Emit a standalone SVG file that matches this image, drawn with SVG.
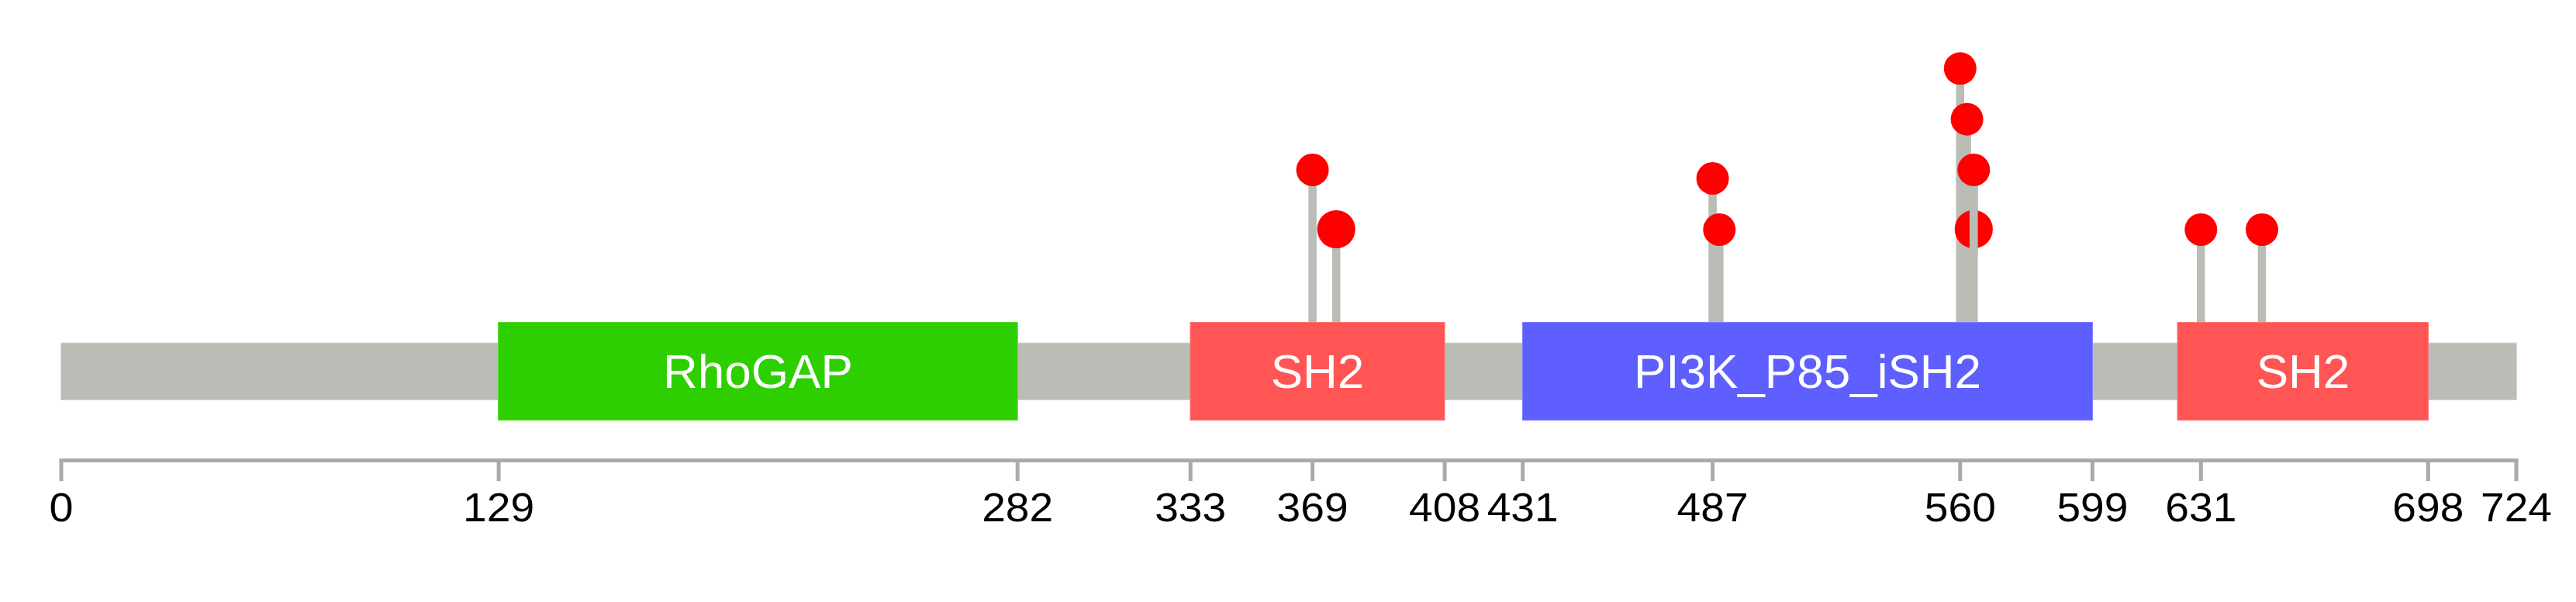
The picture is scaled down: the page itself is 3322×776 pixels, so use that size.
<svg xmlns="http://www.w3.org/2000/svg" width="3322" height="776" viewBox="0 0 3322 776">
  <style>
    .bar { fill: #babdb6; stroke: #d6d8d2; stroke-width: 1; }
    .stem { stroke: #babdb6; stroke-width: 10.6; fill: none; }
    .dot { fill: #ff0000; }
    .axis { stroke: #aaaaaa; stroke-width: 5; fill: none; }
    .tick { stroke: #aaaaaa; stroke-width: 5; }
    .tl { font-family: "Liberation Sans", Arial, sans-serif; font-size: 51px; fill: #000000; text-anchor: middle; }
    .dl { font-family: "Liberation Sans", Arial, sans-serif; font-size: 62px; fill: #ffffff; text-anchor: middle; }
    .rho { fill: #2ecf00; stroke: #52e02a; stroke-width: 1; }
    .sh2 { fill: #ff5555; stroke: #ff7777; stroke-width: 1; }
    .pi3k { fill: #5f5fff; stroke: #8080ff; stroke-width: 1; }
  </style>
  <rect x="0" y="0" width="3322" height="776" fill="#ffffff"/>

  <g id="protein-bar">
    <rect class="bar" x="78.5" y="442" width="3167" height="73.5"/>
  </g>

  <g id="connectors">
    <line class="stem" x1="1692.6" y1="219" x2="1692.6" y2="470"/>
    <line class="stem" x1="1723.2" y1="295.5" x2="1723.2" y2="470"/>
    <line class="stem" x1="2208.6" y1="230" x2="2208.6" y2="470"/>
    <line class="stem" x1="2217.3" y1="296" x2="2217.3" y2="470"/>
    <line class="stem" x1="2527.8" y1="88.3" x2="2527.8" y2="470"/>
    <line class="stem" x1="2536.6" y1="153.7" x2="2536.6" y2="470"/>
    <line class="stem" x1="2545.3" y1="219" x2="2545.3" y2="470"/>
    <line class="stem" x1="2838.3" y1="296" x2="2838.3" y2="470"/>
    <line class="stem" x1="2917" y1="296" x2="2917" y2="470"/>
  </g>

  <g id="mutations">
    <circle id="mut-369" class="dot" cx="1692.6" cy="219" r="21"/>
    <circle id="mut-376" class="dot" cx="1723.2" cy="295.5" r="24.6"/>
    <circle id="mut-487" class="dot" cx="2208.6" cy="230" r="21"/>
    <circle id="mut-489" class="dot" cx="2217.3" cy="296" r="21"/>
    <circle id="mut-564b" class="dot" cx="2545.3" cy="295.5" r="24.6"/>
    <line class="stem" x1="2545.3" y1="235" x2="2545.3" y2="330"/>
    <circle id="mut-560" class="dot" cx="2527.8" cy="88.3" r="21"/>
    <circle id="mut-562" class="dot" cx="2536.6" cy="153.7" r="21"/>
    <circle id="mut-564" class="dot" cx="2545.3" cy="219" r="21"/>
    <circle id="mut-631" class="dot" cx="2838.3" cy="296" r="21"/>
    <circle id="mut-649" class="dot" cx="2917" cy="296" r="21"/>
  </g>

  <g id="domain-rhogap">
    <rect class="rho" x="642.6" y="415.5" width="669.6" height="126.2"/>
    <text class="dl" x="977.4" y="499.5">RhoGAP</text>
  </g>
  <g id="domain-sh2-1">
    <rect class="sh2" x="1535" y="415.5" width="328" height="126.2"/>
    <text class="dl" x="1699" y="499.5">SH2</text>
  </g>
  <g id="domain-pi3k">
    <rect class="pi3k" x="1963.5" y="415.5" width="735" height="126.2"/>
    <text class="dl" x="2331" y="499.5">PI3K_P85_iSH2</text>
  </g>
  <g id="domain-sh2-2">
    <rect class="sh2" x="2808" y="415.5" width="323.5" height="126.2"/>
    <text class="dl" x="2970" y="499.5">SH2</text>
  </g>

  <g id="axis">
    <line class="axis" x1="76.5" y1="593.5" x2="3247.5" y2="593.5"/>
    <line class="tick" x1="79" y1="591" x2="79" y2="620"/>
    <line class="tick" x1="643.1" y1="591" x2="643.1" y2="620"/>
    <line class="tick" x1="1312.2" y1="591" x2="1312.2" y2="620"/>
    <line class="tick" x1="1535.2" y1="591" x2="1535.2" y2="620"/>
    <line class="tick" x1="1692.6" y1="591" x2="1692.6" y2="620"/>
    <line class="tick" x1="1863.1" y1="591" x2="1863.1" y2="620"/>
    <line class="tick" x1="1963.7" y1="591" x2="1963.7" y2="620"/>
    <line class="tick" x1="2208.6" y1="591" x2="2208.6" y2="620"/>
    <line class="tick" x1="2527.8" y1="591" x2="2527.8" y2="620"/>
    <line class="tick" x1="2698.4" y1="591" x2="2698.4" y2="620"/>
    <line class="tick" x1="2838.3" y1="591" x2="2838.3" y2="620"/>
    <line class="tick" x1="3131.3" y1="591" x2="3131.3" y2="620"/>
    <line class="tick" x1="3245" y1="591" x2="3245" y2="620"/>
    <text class="tl" x="79" y="672" textLength="31" lengthAdjust="spacingAndGlyphs">0</text>
    <text class="tl" x="643.1" y="672" textLength="92" lengthAdjust="spacingAndGlyphs">129</text>
    <text class="tl" x="1312.2" y="672" textLength="92" lengthAdjust="spacingAndGlyphs">282</text>
    <text class="tl" x="1535.2" y="672" textLength="92" lengthAdjust="spacingAndGlyphs">333</text>
    <text class="tl" x="1692.6" y="672" textLength="92" lengthAdjust="spacingAndGlyphs">369</text>
    <text class="tl" x="1863.1" y="672" textLength="92" lengthAdjust="spacingAndGlyphs">408</text>
    <text class="tl" x="1963.7" y="672" textLength="92" lengthAdjust="spacingAndGlyphs">431</text>
    <text class="tl" x="2208.6" y="672" textLength="92" lengthAdjust="spacingAndGlyphs">487</text>
    <text class="tl" x="2527.8" y="672" textLength="92" lengthAdjust="spacingAndGlyphs">560</text>
    <text class="tl" x="2698.4" y="672" textLength="92" lengthAdjust="spacingAndGlyphs">599</text>
    <text class="tl" x="2838.3" y="672" textLength="92" lengthAdjust="spacingAndGlyphs">631</text>
    <text class="tl" x="3131.3" y="672" textLength="92" lengthAdjust="spacingAndGlyphs">698</text>
    <text class="tl" x="3245" y="672" textLength="92" lengthAdjust="spacingAndGlyphs">724</text>
  </g>
</svg>
